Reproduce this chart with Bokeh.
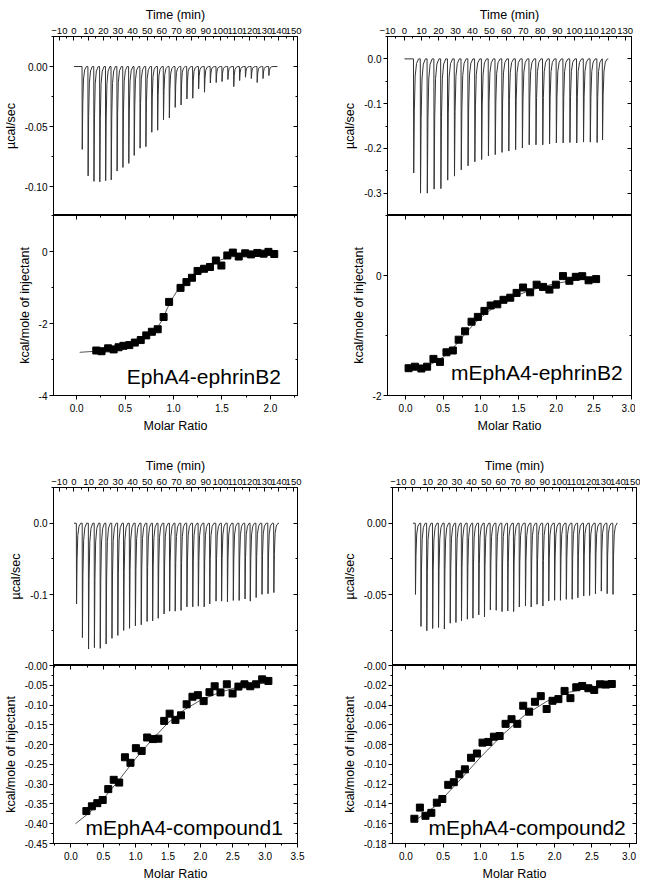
from bokeh.plotting import figure
from bokeh.models import (Range1d, LinearAxis, SingleIntervalTicker, CustomJSTickFormatter,
                          PrintfTickFormatter, Label)
from bokeh.layouts import row, column
from bokeh.embed import file_html
from bokeh.resources import INLINE

FONT = "Liberation Sans"

# ---------------- data ----------------
# Panel 1: EphA4-ephrinB2
p1_inj_time = [5.5, 9.5, 13.5, 17.5, 21.5, 25.3, 29.3, 33.3, 37.3, 41, 45, 49, 53, 57, 61, 65, 69,
               73, 77, 81, 85, 89, 93, 97, 101, 105, 109, 113, 117, 121, 125, 129, 133]
p1_inj_peak = [-0.069, -0.091, -0.0956, -0.096, -0.095, -0.0944, -0.087, -0.084, -0.0806, -0.074,
               -0.068, -0.0667, -0.0547, -0.053, -0.0444, -0.0428, -0.034, -0.032, -0.027, -0.0264,
               -0.0186, -0.0214, -0.0137, -0.0133, -0.0125, -0.0108, -0.0167, -0.0117, -0.0089,
               -0.010, -0.0133, -0.010, -0.0075]
p1_trace_span = [0, 139]
p1_ratio = [0.202, 0.256, 0.324, 0.381, 0.432, 0.482, 0.543, 0.600, 0.661, 0.718, 0.776, 0.836,
            0.897, 0.954, 1.072, 1.133, 1.19, 1.248, 1.315, 1.376, 1.437, 1.494, 1.555, 1.612,
            1.673, 1.74, 1.80, 1.865, 1.93, 1.98, 2.04]
p1_heat = [-2.75, -2.77, -2.69, -2.72, -2.66, -2.62, -2.60, -2.53, -2.46, -2.33, -2.23, -2.16,
           -1.82, -1.40, -1.01, -0.85, -0.73, -0.54, -0.48, -0.43, -0.25, -0.39, -0.11, -0.03,
           -0.14, -0.05, -0.08, -0.04, -0.06, -0.01, -0.07]
p1_fit_x = [0.03, 0.2, 0.4, 0.55, 0.65, 0.75, 0.82, 0.88, 0.94, 1.0, 1.06, 1.13, 1.2, 1.3, 1.4,
            1.5, 1.6, 1.75, 1.9, 2.04]
p1_fit_y = [-2.80, -2.77, -2.70, -2.60, -2.49, -2.33, -2.16, -1.92, -1.55, -1.25, -1.0, -0.82,
            -0.65, -0.47, -0.33, -0.22, -0.15, -0.09, -0.06, -0.04]

# Panel 2: mEphA4-ephrinB2
p2_inj_time = [5.3, 9.3, 13.3, 17.3, 21.3, 25.3, 29.3, 33.3, 37.3, 41.3, 45.3, 49.3, 53.3, 57.3,
               61.3, 65.3, 69.3, 73.3, 77.3, 81.3, 85.3, 89.3, 93.3, 97.3, 101.3, 105.3, 109.3,
               113.3, 116.5]
p2_inj_peak = [-0.255, -0.30, -0.30, -0.291, -0.29, -0.271, -0.262, -0.248, -0.239, -0.23, -0.225,
               -0.217, -0.214, -0.209, -0.206, -0.203, -0.199, -0.192, -0.192, -0.192, -0.19,
               -0.188, -0.188, -0.187, -0.188, -0.186, -0.186, -0.187, -0.181]
p2_trace_span = [0, 120]
p2_ratio = [0.04, 0.124, 0.21, 0.286, 0.37, 0.457, 0.543, 0.628, 0.705, 0.79, 0.876, 0.96, 1.047,
            1.13, 1.218, 1.30, 1.39, 1.474, 1.56, 1.654, 1.74, 1.825, 1.91, 1.996, 2.09, 2.175,
            2.26, 2.346, 2.43, 2.53]
p2_heat = [-1.545, -1.52, -1.55, -1.52, -1.39, -1.44, -1.28, -1.25, -1.07, -0.93, -0.77, -0.69,
           -0.59, -0.50, -0.48, -0.405, -0.37, -0.29, -0.20, -0.28, -0.153, -0.19, -0.235, -0.153,
           -0.01, -0.088, -0.022, -0.011, -0.08, -0.06]
p2_fit_x = [0.04, 0.2, 0.35, 0.5, 0.6, 0.7, 0.8, 0.9, 1.0, 1.1, 1.2, 1.35, 1.5, 1.7, 1.9, 2.1,
            2.3, 2.55]
p2_fit_y = [-1.56, -1.53, -1.47, -1.36, -1.25, -1.11, -0.96, -0.82, -0.70, -0.60, -0.51, -0.41,
            -0.32, -0.23, -0.16, -0.11, -0.07, -0.05]

# Panel 3: mEphA4-compound1
p3_inj_time = [1.6, 5.6, 9.8, 13.8, 17.8, 21.8, 25.8, 29.8, 33.8, 37.8, 41.8, 45.8, 49.8, 53.6,
               57.4, 61.4, 65.2, 69.0, 73.0, 77.0, 81.0, 84.8, 88.8, 92.6, 96.9, 100.7, 104.7,
               108.7, 112.7, 116.7, 120.3, 124.3, 128.3, 132.4, 136.4]
p3_inj_peak = [-0.113, -0.16, -0.176, -0.174, -0.175, -0.169, -0.161, -0.157, -0.15, -0.147,
               -0.1435, -0.142, -0.1375, -0.1366, -0.133, -0.127, -0.123, -0.123, -0.122, -0.117,
               -0.117, -0.116, -0.117, -0.113, -0.109, -0.109, -0.11, -0.108, -0.108, -0.106,
               -0.109, -0.104, -0.0995, -0.0986, -0.097]
p3_trace_span = [0, 140]
p3_ratio = [0.238, 0.323, 0.407, 0.49, 0.576, 0.66, 0.745, 0.834, 0.919, 1.003, 1.092, 1.177,
            1.266, 1.35, 1.44, 1.524, 1.614, 1.70, 1.787, 1.877, 1.961, 2.05, 2.14, 2.22, 2.31,
            2.408, 2.497, 2.587, 2.68, 2.77, 2.86, 2.954, 3.05]
p3_heat = [-0.368, -0.356, -0.348, -0.34, -0.3125, -0.289, -0.296, -0.232, -0.246, -0.209,
           -0.216, -0.182, -0.186, -0.185, -0.14, -0.1217, -0.1375, -0.126, -0.098, -0.079,
           -0.075, -0.09, -0.0675, -0.0525, -0.068, -0.0475, -0.0708, -0.0533, -0.0475, -0.0525,
           -0.0475, -0.035, -0.039]
p3_fit_x = [0.07, 0.3, 0.5, 0.75, 1.0, 1.25, 1.5, 1.75, 2.0, 2.25, 2.5, 2.75, 3.05]
p3_fit_y = [-0.40, -0.37, -0.337, -0.288, -0.235, -0.188, -0.145, -0.112, -0.088, -0.071, -0.058,
            -0.050, -0.043]

# Panel 4: mEphA4-compound2
p4_inj_time = [1.55, 5.3, 9.3, 13.3, 17.3, 21.3, 25.3, 29.2, 33.0, 37.0, 40.8, 44.8, 48.7, 52.7,
               56.7, 60.7, 64.6, 68.6, 72.5, 76.7, 80.6, 84.6, 88.6, 92.6, 96.6, 100.6, 104.6,
               108.6, 112.5, 116.5, 120.5, 124.5, 128.5, 132.5, 136.5]
p4_inj_peak = [-0.0498, -0.0722, -0.0752, -0.0736, -0.0729, -0.074, -0.0699, -0.0694, -0.0683,
               -0.0671, -0.0664, -0.0641, -0.0655, -0.0606, -0.0609, -0.0618, -0.0613, -0.0618,
               -0.0586, -0.0579, -0.0586, -0.0567, -0.0579, -0.0544, -0.0539, -0.0539, -0.0532,
               -0.0532, -0.0521, -0.0509, -0.0505, -0.0493, -0.0475, -0.0493, -0.0498]
p4_trace_span = [0, 139]
p4_ratio = [0.114, 0.188, 0.263, 0.342, 0.416, 0.49, 0.569, 0.644, 0.718, 0.793, 0.876, 0.955,
            1.03, 1.108, 1.183, 1.26, 1.34, 1.42, 1.498, 1.577, 1.656, 1.735, 1.813, 1.892, 1.971,
            2.05, 2.133, 2.212, 2.29, 2.37, 2.453, 2.532, 2.61, 2.69, 2.768]
p4_heat = [-0.155, -0.1437, -0.152, -0.149, -0.1387, -0.135, -0.1207, -0.118, -0.11, -0.105,
           -0.0933, -0.089, -0.078, -0.0773, -0.072, -0.0713, -0.059, -0.0543, -0.059, -0.0407,
           -0.0467, -0.0367, -0.031, -0.044, -0.0357, -0.034, -0.0257, -0.033, -0.022, -0.0207,
           -0.023, -0.0247, -0.019, -0.0193, -0.0187]
p4_fit_x = [0.1, 0.4, 0.7, 1.0, 1.3, 1.6, 1.9, 2.2, 2.5, 2.77]
p4_fit_y = [-0.158, -0.142, -0.118, -0.093, -0.07, -0.05, -0.036, -0.027, -0.022, -0.019]

names = ["EphA4-ephrinB2", "mEphA4-ephrinB2", "mEphA4-compound1", "mEphA4-compound2"]

# ---------------- axis settings ----------------
time_ranges = [(-14, 152.7), (-10, 133.7), (-14, 152.7), (-14, 152.7)]
raw_ranges = [(-0.124, 0.025), (-0.35, 0.05), (-0.199, 0.05), (-0.0995, 0.025)]
raw_step = [0.05, 0.1, 0.1, 0.05]
raw_fmt = ["%.2f", "%.1f", "%.1f", "%.2f"]
ratio_ranges = [(-0.24, 2.28), (-0.24, 3.0), (-0.27, 3.5), (-0.18, 3.1)]
heat_ranges = [(-4, 1), (-2, 1), (-0.45, 0), (-0.18, 0)]
heat_step = [2, 2, 0.05, 0.02]
heat_minor = [2, 2, 2, 2]
heat_fmt = [None, None, "%.2f", "%.2f"]
label_pos = [(0.068, 0.105), (0.036, 0.13), (0.06, 0.09), (0.044, 0.09)]

FW = 244
LEFT_B = 48
RIGHT_B = [42, 4, 42, 4]
TOP_BORDER = [36, 36, 52, 52]
TOP_H = [179, 179, 178, 178]
BOT_H = [180, 180, 178, 178]
BOT_BORDER = [39, 39, 37, 37]
OVERLAP = [0, 0, 8, 8]   # lets the "-0.00" label of the lower plot show above its frame


def style_common(ax):
    ax.axis_line_color = "black"
    ax.major_tick_line_color = "black"
    ax.minor_tick_line_color = "black"
    ax.major_label_text_font = FONT
    ax.major_label_text_color = "black"
    ax.axis_label_text_font = FONT
    ax.axis_label_text_font_size = "12.5px"
    ax.axis_label_text_font_style = "normal"
    ax.axis_label_text_color = "black"


def mirror_axis(ticker):
    ax = LinearAxis(ticker=ticker, formatter=CustomJSTickFormatter(code="return ''"))
    style_common(ax)
    ax.major_label_text_font_size = "0px"
    ax.major_label_standoff = 0
    ax.major_tick_in = 4
    ax.major_tick_out = 0
    ax.minor_tick_in = 2
    ax.minor_tick_out = 0
    return ax


def make_trace(times, peaks, span):
    xs, ys = [span[0]], [0.0]
    for t, pk in zip(times, peaks):
        xs += [t, t + 0.15, t + 0.5, t + 1.0, t + 1.8, t + 3.0]
        ys += [0.0, pk, pk * 0.45, pk * 0.15, pk * 0.04, 0.0]
    xs.append(span[1])
    ys.append(0.0)
    return xs, ys


def make_panel(i, times, peaks, span, ratio, heat, fx, fy):
    # ---- raw thermogram (top) ----
    top = figure(frame_width=FW, frame_height=TOP_H[i], output_backend="svg",
                 toolbar_location=None, x_axis_location="above",
                 x_range=Range1d(*time_ranges[i]), y_range=Range1d(*raw_ranges[i]),
                 min_border_left=LEFT_B, min_border_right=RIGHT_B[i],
                 min_border_top=TOP_BORDER[i], min_border_bottom=0)
    top.grid.visible = False
    top.outline_line_color = "black"
    top.background_fill_color = "white"
    top.border_fill_color = "white"

    tx = top.xaxis[0]
    tx.ticker = SingleIntervalTicker(interval=10, num_minor_ticks=2)
    style_common(tx)
    tx.axis_label = "Time (min)"
    tx.major_label_text_font_size = "9.5px"
    tx.major_tick_in, tx.major_tick_out = 4, 0
    tx.minor_tick_in, tx.minor_tick_out = 2, 0
    tx.major_label_standoff = 3
    tx.axis_label_standoff = 3

    ty = top.yaxis[0]
    yt = SingleIntervalTicker(interval=raw_step[i], num_minor_ticks=2)
    ty.ticker = yt
    ty.formatter = PrintfTickFormatter(format=raw_fmt[i])
    style_common(ty)
    ty.axis_label = "µcal/sec"
    ty.major_label_text_font_size = "10px"
    ty.major_tick_in, ty.major_tick_out = 0, 4
    ty.minor_tick_in, ty.minor_tick_out = 0, 2
    ty.major_label_standoff = 2
    ty.axis_label_standoff = 4
    top.add_layout(mirror_axis(yt), "right")

    xs, ys = make_trace(times, peaks, span)
    top.line(xs, ys, line_color="#333333", line_width=1)

    # ---- integrated heats (bottom) ----
    kw = {}
    if OVERLAP[i]:
        kw["margin"] = (-OVERLAP[i], 0, 0, 0)
    bot = figure(frame_width=FW, frame_height=BOT_H[i], output_backend="svg",
                 toolbar_location=None,
                 x_range=Range1d(*ratio_ranges[i]), y_range=Range1d(*heat_ranges[i]),
                 min_border_left=LEFT_B, min_border_right=RIGHT_B[i],
                 min_border_top=OVERLAP[i], min_border_bottom=BOT_BORDER[i], **kw)
    bot.grid.visible = False
    bot.outline_line_color = "black"
    bot.background_fill_color = "white"
    bot.border_fill_color = "white"
    if OVERLAP[i]:
        bot.border_fill_alpha = 0

    bx = bot.xaxis[0]
    xt = SingleIntervalTicker(interval=0.5, num_minor_ticks=2)
    bx.ticker = xt
    bx.formatter = PrintfTickFormatter(format="%.1f")
    style_common(bx)
    bx.axis_label = "Molar Ratio"
    bx.major_label_text_font_size = "10px"
    bx.major_tick_in, bx.major_tick_out = 0, 4
    bx.minor_tick_in, bx.minor_tick_out = 0, 2
    bx.major_label_standoff = 4
    bx.axis_label_standoff = 4
    bot.add_layout(mirror_axis(xt), "above")

    by = bot.yaxis[0]
    ht = SingleIntervalTicker(interval=heat_step[i], num_minor_ticks=heat_minor[i])
    by.ticker = ht
    if heat_fmt[i] is None:
        by.formatter = PrintfTickFormatter(format="%d")
    else:
        by.formatter = CustomJSTickFormatter(
            code="return Math.abs(tick) < 1e-9 ? '-0.00' : tick.toFixed(2);")
    style_common(by)
    by.axis_label = "kcal/mole of injectant"
    by.major_label_text_font_size = "10px"
    by.major_tick_in, by.major_tick_out = 0, 4
    by.minor_tick_in, by.minor_tick_out = 0, 2
    by.major_label_standoff = 2
    by.axis_label_standoff = 4
    bot.add_layout(mirror_axis(ht), "right")

    bot.line(fx, fy, line_color="#555555", line_width=1)
    bot.scatter(ratio, heat, marker="square", size=7, fill_color="black", line_color="black")

    x0, x1 = ratio_ranges[i]
    y0, y1 = heat_ranges[i]
    fxr, fyr = label_pos[i]
    bot.add_layout(Label(x=x1 - fxr * (x1 - x0), y=y0 + fyr * (y1 - y0), text=names[i],
                         text_align="right", text_baseline="middle", text_font=FONT,
                         text_font_size="21px", text_color="black"))
    return column(top, bot)


c1 = make_panel(0, p1_inj_time, p1_inj_peak, p1_trace_span, p1_ratio, p1_heat, p1_fit_x, p1_fit_y)
c2 = make_panel(1, p2_inj_time, p2_inj_peak, p2_trace_span, p2_ratio, p2_heat, p2_fit_x, p2_fit_y)
c3 = make_panel(2, p3_inj_time, p3_inj_peak, p3_trace_span, p3_ratio, p3_heat, p3_fit_x, p3_fit_y)
c4 = make_panel(3, p4_inj_time, p4_inj_peak, p4_trace_span, p4_ratio, p4_heat, p4_fit_x, p4_fit_y)

layout = column(row(c1, c2), row(c3, c4))

open("out.html", "w").write(file_html(layout, INLINE))
